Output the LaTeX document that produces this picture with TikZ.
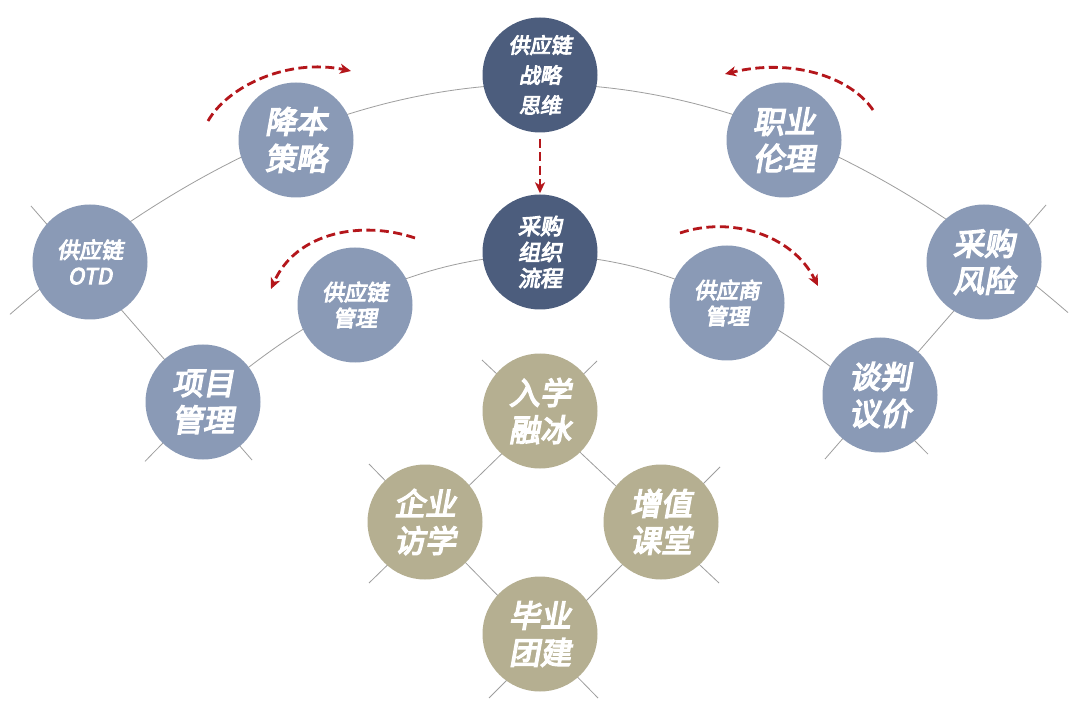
\documentclass[tikz,border=0pt]{standalone}
\usepackage{fontspec}
\newfontfamily\cjk{Noto Sans CJK SC}[FakeSlant=0.18,FakeBold=4.5]
\usetikzlibrary{arrows.meta,calc}
\definecolor{darkblue}{HTML}{4C5D7D}
\definecolor{midblue}{HTML}{8A9AB6}
\definecolor{beige}{HTML}{B5AF91}
\definecolor{dashred}{HTML}{B4161B}
\definecolor{linegray}{HTML}{9E9E9E}
\tikzset{
  ball/.style={circle, minimum size=115pt, inner sep=0pt, text=white, align=center},
  darkball/.style={ball, fill=darkblue},
  midball/.style={ball, fill=midblue},
  beigeball/.style={ball, fill=beige},
  bigtxt/.style={font={\cjk\fontsize{31}{37}\selectfont}},
  smalltxt/.style={font={\cjk\fontsize{22}{26}\selectfont}},
  toptxt/.style={font={\cjk\fontsize{21}{30}\selectfont}},
  arcline/.style={draw=linegray, line width=0.8pt},
  redarrow/.style={draw=dashred, line width=2.8pt, dash pattern=on 9pt off 4.5pt, -{Stealth[length=11pt,width=10pt,inset=3pt]}}
}
\begin{document}
\begin{tikzpicture}[x=1pt,y=-1pt]
\useasboundingbox[fill=white] (0,0) rectangle (1080,714);

% background arcs and lines
\draw[arcline] plot[domain=-530:528, samples=120] ({540+\x},{84+8.2*(\x/100)^2});
\draw[arcline] plot[domain=-395:388, samples=100] ({540+\x},{255+13.23*(\x/100)^2});

\coordinate (l1a) at (31,206);
\coordinate (l1b) at (252,460);
\coordinate (r1a) at (1046,205);
\coordinate (r1b) at (825,459);
\coordinate (d1a) at (482,360);
\coordinate (d1b) at (719,583);
\coordinate (d2a) at (597,361);
\coordinate (d2b) at (369,583);
\coordinate (d3a) at (369,464);
\coordinate (d3b) at (598,698);
\coordinate (d4a) at (720,467);
\coordinate (d4b) at (489,698);
\draw[arcline] (l1a) -- (l1b);
\draw[arcline] (r1a) -- (r1b);
\draw[arcline] (d1a) -- (d1b);
\draw[arcline] (d2a) -- (d2b);
\draw[arcline] (d3a) -- (d3b);
\draw[arcline] (d4a) -- (d4b);

% nodes
\node[darkball, toptxt] (zl) at (540,75) {供应链\\战略\\思维};
\node[darkball, smalltxt] (cg) at (540,252) {采购\\组织\\流程};

\node[midball, bigtxt] (jb) at (296,140) {降本\\策略};
\node[midball, bigtxt] (zy) at (784,140) {职业\\伦理};
\node[midball, smalltxt] (otd) at (90,262) {供应链\\OTD};
\node[midball, bigtxt] (cf) at (984,262) {采购\\风险};
\node[midball, smalltxt] (gl) at (355,305) {供应链\\管理};
\node[midball, smalltxt] (gs) at (727,303) {供应商\\管理};
\node[midball, bigtxt] (xm) at (203,402) {项目\\管理};
\node[midball, bigtxt] (tp) at (880,395) {谈判\\议价};

\node[beigeball, bigtxt] (rx) at (540,411) {入学\\融冰};
\node[beigeball, bigtxt] (qy) at (425,522) {企业\\访学};
\node[beigeball, bigtxt] (zz) at (661,522) {增值\\课堂};
\node[beigeball, bigtxt] (by) at (540,634) {毕业\\团建};

% dashed red arrows
\draw[redarrow, shorten <=6pt, shorten >=1pt] (zl.south) -- (cg.north);
\coordinate (a1s) at (208,121);
\coordinate (a1e) at (351,71);
\draw[redarrow] (a1s) .. controls (228,86) and (288,58) .. (a1e);
\coordinate (a2s) at (873,110);
\coordinate (a2e) at (725,74);
\draw[redarrow] (a2s) .. controls (850,76) and (790,58) .. (a2e);
\coordinate (a3s) at (415,238);
\coordinate (a3e) at (271,289);
\draw[redarrow] (a3s) .. controls (362,220) and (296,232) .. (a3e);
\coordinate (a4s) at (680,233);
\coordinate (a4e) at (818,286);
\draw[redarrow] (a4s) .. controls (730,216) and (792,234) .. (a4e);
\end{tikzpicture}
\end{document}
